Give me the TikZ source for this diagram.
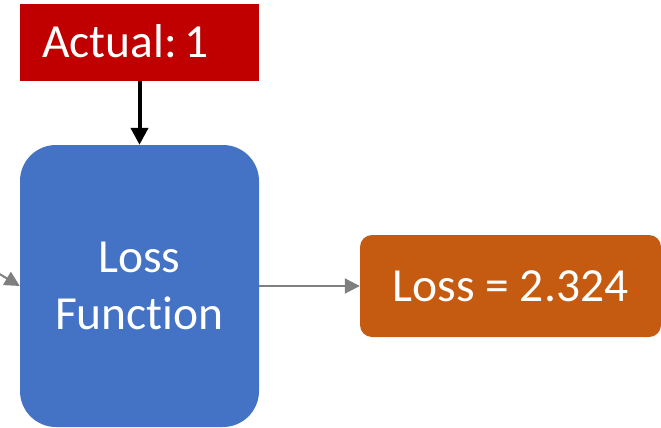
\documentclass[tikz,border=0pt]{standalone}
\usepackage{fontspec}
\setmainfont{Carlito}[Ligatures={NoCommon}]
\usetikzlibrary{arrows.meta}
\definecolor{actred}{HTML}{C00000}
\definecolor{lossblue}{HTML}{4472C4}
\definecolor{lossorange}{HTML}{C55A11}
\definecolor{conngray}{HTML}{7F7F7F}
\tikzset{
  bigtext/.style={text=white, font=\fontsize{47.5}{57}\selectfont},
  redbox/.style={fill=actred, draw=none, bigtext, inner sep=0pt, text height=30pt, text depth=0pt},
  bluebox/.style={fill=lossblue, draw=none, bigtext, rounded corners=36pt, align=center, inner sep=0pt},
  orangebox/.style={fill=lossorange, draw=none, bigtext, rounded corners=12pt, inner sep=0pt, text height=30pt, text depth=0pt},
  grayarrow/.style={draw=conngray, line width=2pt, -{Triangle[length=15pt,width=15pt]}},
  blackarrow/.style={draw=black, line width=4pt, -{Triangle[length=17pt,width=17pt]}}
}
\begin{document}
\begin{tikzpicture}[x=1pt,y=-1pt]
\useasboundingbox (0,0) rectangle (661,428);
\node[redbox, minimum width=239pt, minimum height=77pt] (actual) at (139.5,42.5) {Actual:\hspace{0.17em}1\hspace*{28pt}};
\node[bluebox, minimum width=239pt, minimum height=282pt] (loss) at (139.5,286) {Loss\\Function};
\node[orangebox, minimum width=301pt, minimum height=102pt] (out) at (510.5,286) {Loss = 2.324};
\coordinate (lin) at (-14,266);
\draw[blackarrow] (actual.south) -- (loss.north);
\draw[grayarrow] (loss.east) -- (out.west);
\draw[grayarrow] (lin) -- (loss.west);
\end{tikzpicture}
\end{document}
